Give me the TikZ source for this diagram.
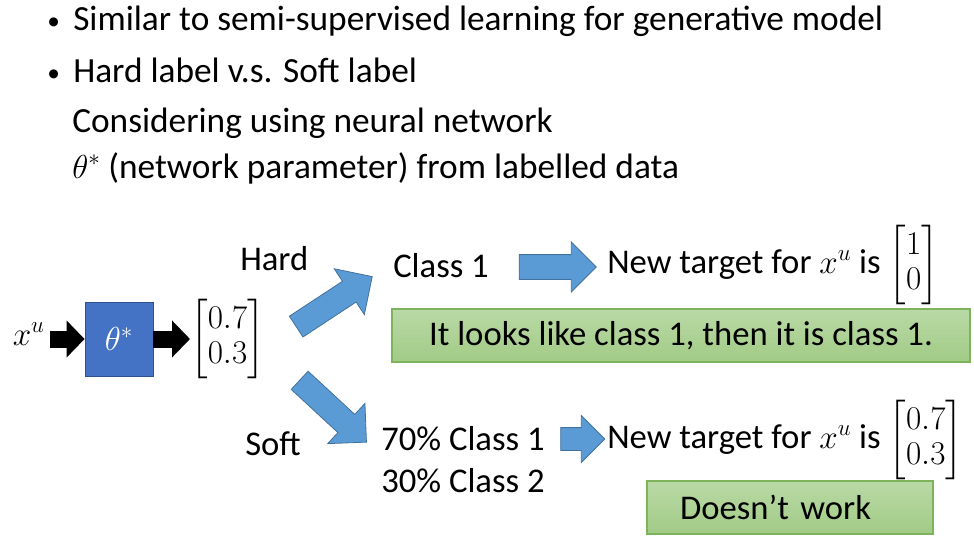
\documentclass[tikz,border=0pt]{standalone}
\usepackage{amsmath}
\usepackage{fontspec}
\setmainfont{Carlito}
\usepackage{tikz}
\usetikzlibrary{shapes.arrows,arrows.meta}
\usepackage{xcolor}

\definecolor{thetafill}{HTML}{4472C4}
\definecolor{thetaline}{HTML}{2F528F}
\definecolor{arrowfill}{HTML}{5B9BD5}
\definecolor{arrowline}{HTML}{41719C}
\definecolor{notetop}{HTML}{B9D9A6}
\definecolor{notebottom}{HTML}{A2CB86}
\definecolor{noteline}{HTML}{7DB35A}

\newcommand{\colvec}[2]{{\renewcommand{\arraystretch}{0.85}\setlength{\arraycolsep}{2.5pt}$\begin{bmatrix}#1\\#2\end{bmatrix}$}}

\tikzset{
    txt/.style={inner sep=0pt, font=\fontsize{26}{31}\selectfont},
    toptxt/.style={inner sep=0pt, font=\fontsize{26.5}{32}\selectfont},
    bulletdot/.style={inner sep=0pt, font=\fontsize{19}{23}\selectfont},
    thetabox/.style={txt, fill=thetafill, draw=thetaline, line width=0.6pt,
        text=white, minimum width=51pt, minimum height=55.5pt},
    fatarrow/.style={line width=12.75pt, -{Triangle[length=13.5pt,width=27pt]}},
    bluearrow/.style={single arrow, single arrow head indent=0pt,
        single arrow head extend=#1, fill=arrowfill, draw=arrowline,
        line width=0.6pt, inner sep=0pt, minimum width=0pt},
    notebox/.style={txt, top color=notetop, bottom color=notebottom,
        draw=noteline, line width=0.8pt, minimum height=39.75pt}
}

\begin{document}
\begin{tikzpicture}[x=0.75pt,y=-0.75pt]
        \useasboundingbox (0,0) rectangle (974,540);
        % bullet text
        \draw (47,29) node[bulletdot,anchor=base west] (dot1) {•};
        \draw (73,30) node[toptxt,anchor=base west] (line1) {Similar to semi-supervised learning for generative model};
        \draw (47,81) node[bulletdot,anchor=base west] (dot2) {•};
        \draw (73,82) node[toptxt,anchor=base west] (line2) {Hard label v.s. Soft label};
        \draw (72,132) node[toptxt,anchor=base west] (line3) {Considering using neural network};
        \draw (72,178) node[toptxt,anchor=base west] (line4) {$\theta^*$ (network parameter) from labelled data};

        % network
        \draw (45,345) node[txt,anchor=base east] (xu) {$x^u$};
        \draw (119,339) node[thetabox] (theta) {$\theta^*$};
        \draw (190,339) node[txt,anchor=west] (vec) {\colvec{0.7}{0.3}};
        \draw[fatarrow] (xu.east |- theta) ++(3.75pt,0) -- (theta.west);
        \draw[fatarrow] (theta.east) -- (vec.west);

        % hard / soft branches
        \draw (240,270) node[txt,anchor=base west] (hard) {Hard};
        \draw (245,455) node[txt,anchor=base west] (soft) {Soft};
        \draw (329,305) node[bluearrow=11.25pt,text height=9pt,text depth=9pt,
            minimum height=68.25pt,rotate=33.3] (uparrow) {};
        \draw (328.5,407) node[bluearrow=11.25pt,text height=9pt,text depth=9pt,
            minimum height=68.25pt,rotate=-42.8] (downarrow) {};

        % hard label
        \draw (393,277) node[txt,anchor=base west] (class1) {Class 1};
        \draw (551.5,267) node[bluearrow=9.4pt,text height=9pt,text depth=9pt,
            minimum height=57.75pt] (hardarrow) {};
        \draw (607,273) node[txt,anchor=base west] (hardtarget) {New target for $x^u$ is \colvec{1}{0}};
        \draw (681,335.5) node[notebox,minimum width=433.5pt] (hardnote) {It looks like class 1, then it is class 1.};

        % soft label
        \draw (381,450) node[txt,anchor=base west] (class70) {70\% Class 1};
        \draw (381,492) node[txt,anchor=base west] (class30) {30\% Class 2};
        \draw (577,439) node[bluearrow=9pt,text height=8.25pt,text depth=8.25pt,
            minimum height=33pt] (softarrow) {};
        \draw (607,448) node[txt,anchor=base west] (softtarget) {New target for $x^u$ is \colvec{0.7}{0.3}};
        \draw (790,507.5) node[notebox,text width=165pt,inner xsep=24.75pt,align=left] (softnote) {Doesn’t work};
    \end{tikzpicture}
\end{document}
